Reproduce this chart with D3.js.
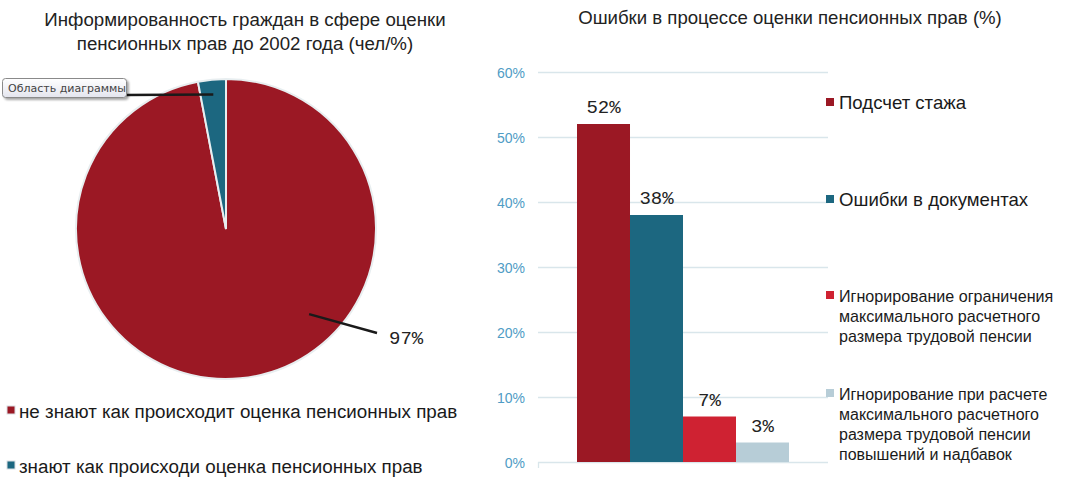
<!DOCTYPE html>
<html>
<head>
<meta charset="utf-8">
<script src="https://cdn.jsdelivr.net/npm/d3@7"></script>
<style>
  body { margin: 0; background: #fff; }
  svg { display: block; font-family: "Liberation Sans", Arial, sans-serif; }
</style>
</head>
<body>
<div id="chart"></div>
<script>
// ---- data ----
var pieLabels = ["не знают как происходит оценка пенсионных прав", "знают как происходи оценка пенсионных прав"];
var pieValues = [97, 3];
var pieColors = ["#9b1824", "#1c6780"];

var barLabels = [
  ["Подсчет стажа"],
  ["Ошибки в документах"],
  ["Игнорирование ограничения", "максимального расчетного", "размера трудовой пенсии"],
  ["Игнорирование при расчете", "максимального расчетного", "размера трудовой пенсии", "повышений и надбавок"]
];
var barValues = [52, 38, 7, 3];
var barColors = ["#9b1824", "#1c6780", "#cf2232", "#b7cdd7"];
var yTicks = [0, 10, 20, 30, 40, 50, 60];

var W = 1068, H = 486;
var svg = d3.select("#chart").append("svg")
    .attr("width", W)
    .attr("height", H);

// ================= pie chart =================
var pieTitle = svg.append("text")
    .attr("x", 245)
    .attr("y", 26)
    .attr("text-anchor", "middle")
    .style("font-size", "18.7px")
    .style("fill", "#222");
pieTitle.append("tspan").attr("x", 245).text("Информированность граждан в сфере оценки");
pieTitle.append("tspan").attr("x", 245).attr("dy", 24).text("пенсионных прав до 2002 года (чел/%)");

var cx = 226, cy = 229, r = 150;
var pieG = svg.append("g").attr("transform", "translate(" + cx + "," + cy + ")");

var pie = d3.pie().sort(null).value(function(d) { return d; });
var arcs = pie(pieValues);
var arc = d3.arc().innerRadius(0).outerRadius(r);

pieG.selectAll("path.slice")
  .data(arcs)
  .enter().append("path")
    .attr("class", "slice")
    .attr("d", arc)
    .attr("fill", function(d, i) { return pieColors[i]; })
    .attr("stroke", "#e8eef0")
    .attr("stroke-width", 2);

function polar(rad, ang) { return [rad * Math.sin(ang), -rad * Math.cos(ang)]; }

// leader for the big slice
var a0 = 135.7 * Math.PI / 180;
var p0 = polar(119, a0);
pieG.append("line")
    .attr("x1", p0[0]).attr("y1", p0[1])
    .attr("x2", 151).attr("y2", 104)
    .attr("stroke", "#1a1a1a").attr("stroke-width", 2.5);
pieG.append("text")
    .attr("x", 163).attr("y", 115)
    .style("font-family", "'Liberation Mono', 'Courier New', monospace")
    .style("font-size", "19px")
    .style("fill", "#222")
    .text(pieValues[0] + "%");

// leader for the small slice (label hidden behind tooltip)
var a1 = (arcs[1].startAngle + arcs[1].endAngle) / 2;
var p1 = polar(r * 0.9, a1);
pieG.append("line")
    .attr("x1", p1[0]).attr("y1", p1[1])
    .attr("x2", -101).attr("y2", -134)
    .attr("stroke", "#1a1a1a").attr("stroke-width", 2.5);

// tooltip box "Область диаграммы"
var defs = svg.append("defs");
var grad = defs.append("linearGradient").attr("id", "tipgrad").attr("x1", 0).attr("y1", 0).attr("x2", 0).attr("y2", 1);
grad.append("stop").attr("offset", "0%").attr("stop-color", "#ffffff");
grad.append("stop").attr("offset", "100%").attr("stop-color", "#e4e5ee");
var shadow = defs.append("filter").attr("id", "tipshadow").attr("x", "-10%").attr("y", "-20%").attr("width", "130%").attr("height", "160%");
shadow.append("feDropShadow").attr("dx", 2).attr("dy", 2).attr("stdDeviation", 1.2).attr("flood-color", "#000").attr("flood-opacity", 0.35);

svg.append("rect")
    .attr("x", 2.5).attr("y", 78.5).attr("width", 124).attr("height", 19)
    .attr("rx", 3)
    .attr("fill", "url(#tipgrad)")
    .attr("stroke", "#8a8a8a")
    .attr("filter", "url(#tipshadow)");
svg.append("text")
    .attr("x", 8).attr("y", 92)
    .style("font-family", "'DejaVu Sans', sans-serif")
    .style("font-size", "11px")
    .style("fill", "#444")
    .text("Область диаграммы");

// left legend
var pieLeg = svg.append("g").selectAll("g")
  .data(pieLabels)
  .enter().append("g")
    .attr("transform", function(d, i) { return "translate(7," + (406 + i * 55) + ")"; });
pieLeg.append("rect")
    .attr("width", 8).attr("height", 8)
    .attr("fill", function(d, i) { return pieColors[i]; })
    .attr("stroke", "#d9dee2").attr("stroke-width", 1);
pieLeg.append("text")
    .attr("x", 12).attr("y", 12)
    .style("font-size", "18.8px")
    .style("fill", "#1a1a1a")
    .text(function(d) { return d; });

// ================= bar chart =================
svg.append("text")
    .attr("x", 790)
    .attr("y", 24)
    .attr("text-anchor", "middle")
    .style("font-size", "18.6px")
    .style("fill", "#222")
    .text("Ошибки в процессе оценки пенсионных прав (%)");

var plotL = 538, plotR = 828, plotT = 72, plotB = 462;

var y = d3.scaleLinear().domain([0, 60]).range([plotB, plotT]);

var band = d3.scaleBand()
    .domain(["group"])
    .range([plotL, plotR])
    .paddingInner(0)
    .paddingOuter(0.184);

var x = d3.scaleBand()
    .domain(d3.range(barValues.length))
    .range([band("group"), band("group") + band.bandwidth()])
    .padding(0);

// grid
svg.append("g")
  .selectAll("line")
  .data(yTicks)
  .enter().append("line")
    .attr("x1", plotL).attr("x2", plotR)
    .attr("y1", function(d) { return y(d) + 0.5; })
    .attr("y2", function(d) { return y(d) + 0.5; })
    .attr("stroke", "#d9e6eb")
    .attr("stroke-width", 1.3);

// y axis labels
var yAxis = svg.append("g")
    .attr("transform", "translate(" + plotL + ",0)")
    .call(d3.axisLeft(y).tickValues(yTicks).tickSize(0).tickPadding(13).tickFormat(function(d) { return d + "%"; }))
    .attr("font-size", 14)
    .attr("font-family", "'Liberation Sans', Arial, sans-serif");
yAxis.select(".domain").remove();
yAxis.selectAll("text")
    .attr("dy", "0.36em")
    .style("font-size", "14px")
    .style("fill", "#4f9cc5");

// small tick under the baseline at the left edge
svg.append("g").selectAll("line")
  .data([plotL])
  .enter().append("line")
    .attr("x1", function(d) { return d + 0.5; }).attr("x2", function(d) { return d + 0.5; })
    .attr("y1", plotB).attr("y2", plotB + 6)
    .attr("stroke", "#d9e6eb").attr("stroke-width", 1.3);

// bars
svg.append("g").selectAll("rect")
  .data(barValues)
  .enter().append("rect")
    .attr("x", function(d, i) { return x(i); })
    .attr("y", function(d) { return y(d); })
    .attr("width", x.bandwidth())
    .attr("height", function(d) { return plotB - y(d); })
    .attr("fill", function(d, i) { return barColors[i]; });

// value labels
svg.append("g").selectAll("text")
  .data(barValues)
  .enter().append("text")
    .attr("x", function(d, i) { return x(i) + x.bandwidth() / 2; })
    .attr("y", function(d) { return y(d) - 11; })
    .attr("text-anchor", "middle")
    .style("font-family", "'Liberation Mono', 'Courier New', monospace")
    .style("font-size", "19px")
    .style("fill", "#222")
    .text(function(d) { return d + "%"; });

// right legend
var legY = [98, 195, 291, 389];
var legSize = [18.6, 18.6, 16.1, 16];
var leg = svg.append("g").selectAll("g")
  .data(barLabels)
  .enter().append("g")
    .attr("transform", function(d, i) { return "translate(826," + legY[i] + ")"; });
leg.append("rect")
    .attr("width", 8).attr("height", 8)
    .attr("fill", function(d, i) { return barColors[i]; });
leg.each(function(lines, i) {
  var t = d3.select(this).append("text")
      .attr("x", 13).attr("y", i < 2 ? 11 : 11)
      .style("font-size", legSize[i] + "px")
      .style("fill", "#1a1a1a");
  lines.forEach(function(s, k) {
    t.append("tspan").attr("x", 13).attr("dy", k === 0 ? 0 : 20).text(s);
  });
});
</script>
</body>
</html>
